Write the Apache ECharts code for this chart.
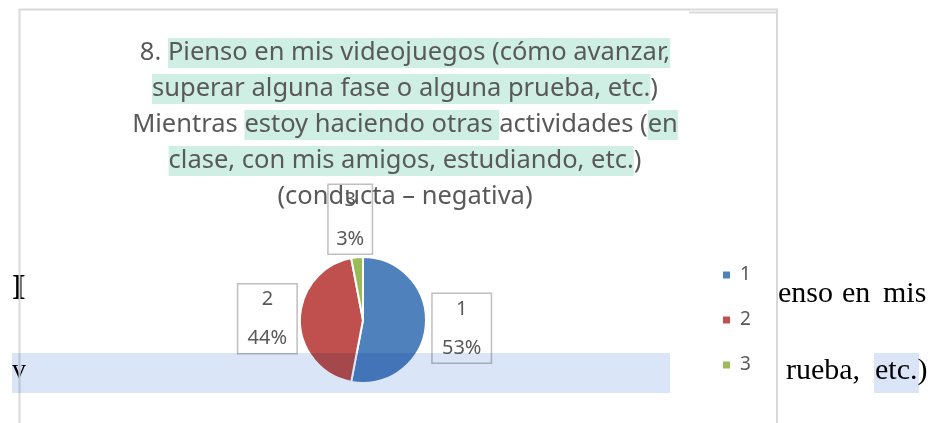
<!DOCTYPE html>
<html>
<head>
<meta charset="utf-8">
<script src="https://cdn.jsdelivr.net/npm/echarts@6/dist/echarts.min.js"></script>
<style>
html, body { margin: 0; padding: 0; background: #fff; }
#chart { width: 932px; height: 423px; }
</style>
</head>
<body>
<div id="chart"></div>
<script>
// datos del gráfico
var categories = ['1', '2', '3'];
var values = [53, 44, 3];
var sliceColors = ['#4F81BD', '#C0504D', '#9BBB59'];

// título: trozos [texto, resaltado]
var titleLines = [
    [['8. ', 0], ['Pienso en mis videojuegos (cómo avanzar,', 1]],
    [['superar alguna fase o alguna prueba, etc.', 1], [')', 0]],
    [['Mientras ', 0], ['estoy haciendo otras ', 1], ['actividades (', 0], ['en', 1]],
    [['clase, con mis amigos, estudiando, etc.', 1], [')', 0]],
    [['(conducta – negativa)', 0]]
];

var chartFont = 'Noto Sans';
var textGray = '#595959';
var docFont = '"Liberation Serif"';

var titleText = titleLines.map(function(line){
    return line.map(function(seg){
        return '{' + (seg[1] ? 'h' : 'a') + '|' + seg[0] + '}';
    }).join('');
}).join('\n');

var chart = echarts.init(document.getElementById('chart'));

chart.setOption({
    backgroundColor: '#fff',
    animation: false,
    title: {
        text: titleText,
        left: 400,
        top: 30,
        textAlign: 'center',
        z: 20,
        textStyle: {
            fontFamily: chartFont,
            fontSize: 25.5,
            fontWeight: 'normal',
            color: textGray,
            lineHeight: 36,
            rich: {
                a: { fontFamily: chartFont, fontSize: 25.5, color: textGray, lineHeight: 36 },
                h: { fontFamily: chartFont, fontSize: 25.5, color: textGray, lineHeight: 36, height: 30, backgroundColor: '#CFEFE4' }
            }
        }
    },
    legend: {
        orient: 'vertical',
        left: 716,
        top: 260,
        icon: 'rect',
        itemWidth: 9,
        itemHeight: 9,
        itemGap: 25,
        data: categories,
        textStyle: { fontFamily: chartFont, fontSize: 19, lineHeight: 20, color: textGray, padding: [0, 0, 0, 4] }
    },
    graphic: [
        // texto del documento detrás del gráfico
        { type: 'text', left: 12, top: 272, z: 1, style: { text: 'I', font: 'bold 35px ' + docFont, fill: '#000' } },
        { type: 'text', left: 12, top: 357, z: 1, style: { text: 'v', font: '28px ' + docFont, fill: '#000' } },
        { type: 'rect', shape: { x: 874, y: 353, width: 45, height: 40 }, z: 0, style: { fill: '#DAE6F8' } },
        { type: 'text', left: 778, top: 279, z: 1, style: { text: 'enso', font: '30px ' + docFont, fill: '#000' } },
        { type: 'text', left: 842, top: 279, z: 1, style: { text: 'en', font: '30px ' + docFont, fill: '#000' } },
        { type: 'text', left: 883, top: 279, z: 1, style: { text: 'mis', font: '30px ' + docFont, fill: '#000' } },
        { type: 'text', left: 786, top: 356, z: 1, style: { text: 'rueba,', font: '30px ' + docFont, fill: '#000' } },
        { type: 'text', left: 875, top: 356, z: 1, style: { text: 'etc.)', font: '30px ' + docFont, fill: '#000' } },
        // borde del área del gráfico
        { type: 'polyline', z: 2, shape: { points: [[19.5, 430], [19.5, 9.5], [777, 9.5], [777, 430]] }, style: { stroke: '#D9D9D9', lineWidth: 2, fill: null } },
        { type: 'line', z: 2, shape: { x1: 689, y1: 12.5, x2: 777, y2: 12.5 }, style: { stroke: '#D9D9D9', lineWidth: 2 } },
        // franja resaltada del documento (encima del gráfico)
        { type: 'rect', shape: { x: 12, y: 353, width: 658, height: 40 }, z: 100, style: { fill: '#DAE6F8', blend: 'multiply' } }
    ],
    series: [{
        type: 'pie',
        center: [363, 320],
        radius: 63,
        startAngle: 90,
        clockwise: true,
        itemStyle: { borderColor: '#fff', borderWidth: 2 },
        label: {
            position: 'outside',
            formatter: '{t|{b}}\n\n{t|{d}%}',
            fontFamily: chartFont,
            fontSize: 20,
            lineHeight: 19.5,
            color: textGray,
            backgroundColor: '#fff',
            borderColor: '#BFBFBF',
            borderWidth: 1.5,
            padding: [5, 9],
            rich: {
                t: { fontFamily: chartFont, fontSize: 20, lineHeight: 19.5, color: textGray, width: 40, align: 'center' }
            }
        },
        labelLine: { show: false, length: 4, length2: 0 },
        labelLayout: function(p){
            if (p.dataIndex === 0) return { dx: -2, dy: 2 };
            if (p.dataIndex === 1) return { dy: -8 };
            if (p.dataIndex === 2) return { dx: p.labelRect.width / 2 - 3, dy: -34 };
        },
        data: categories.map(function(c, i){
            var item = { name: c, value: values[i], itemStyle: { color: sliceColors[i] } };
            if (i === 2) {
                item.label = { rich: { t: { fontFamily: chartFont, fontSize: 20, lineHeight: 19.5, color: textGray, width: 25, align: 'center' } } };
            }
            return item;
        })
    }]
});
</script>
</body>
</html>
